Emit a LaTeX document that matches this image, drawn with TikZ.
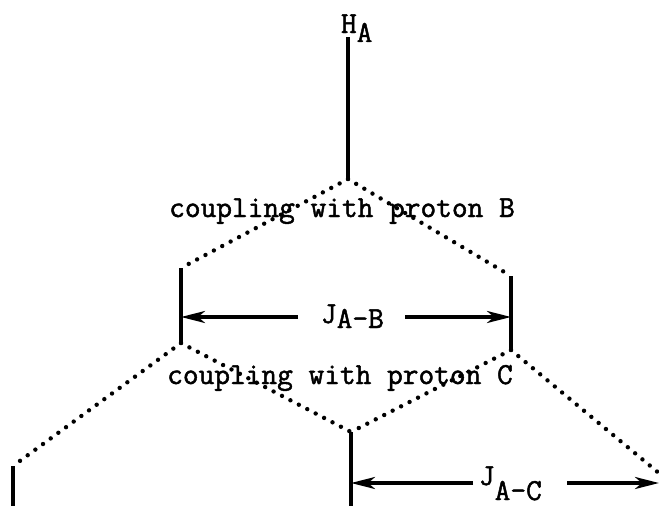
\documentclass[tikz,border=0pt]{standalone}
\usepackage{fontspec}
\newfontfamily\tw[FakeBold=1.6]{Latin Modern Mono}
\usetikzlibrary{arrows.meta}
\tikzset{
  level/.style={line width=3.2pt},
  split/.style={line width=4.4pt, dash pattern=on 0pt off 9.5pt, line cap=round},
  jarrow/.style={line width=3.5pt, -{Stealth[length=24pt,width=12pt,inset=7pt]}},
  lbl/.style={inner sep=0pt, outer sep=0pt, font=\tw\fontsize{30.5}{34}\selectfont, anchor=base west},
  txt/.style={inner sep=0pt, outer sep=0pt, font=\tw\fontsize{30.5}{34}\selectfont, anchor=base}
}
\begin{document}
\begin{tikzpicture}[x=1pt,y=-1pt]
\useasboundingbox (0,0) rectangle (659,506);
% coordinates
\coordinate (top) at (348,37);
\coordinate (v0) at (348,179);
\coordinate (b1t) at (181,268);
\coordinate (b1b) at (181,343);
\coordinate (b2t) at (511,276);
\coordinate (b2b) at (511,350);
\coordinate (c1t) at (13,466);
\coordinate (c1b) at (13,506);
\coordinate (c2t) at (351,432);
\coordinate (c2b) at (351,506);
\coordinate (c3) at (660,474);
% arrow coordinates
\coordinate (abL) at (181,317);
\coordinate (abR) at (511,317);
\coordinate (acL) at (351,483);
\coordinate (acR) at (659,483);
% labels
\node[lbl] (HA) at (341,33) {H\raisebox{-9pt}{A}};
\node[txt] (cB) at (342,217) {coupling with proton B};
\node[txt] (cC) at (340,384) {coupling with proton C};
\node[lbl] (JAB) at (321,323) {J\raisebox{-5pt}{A-B}};
\node[lbl] (JAC) at (479,485) {J\raisebox{-15pt}{A-C}};
\coordinate (abLs) at (298,317);
\coordinate (abRs) at (405,317);
\coordinate (acLs) at (473,483);
\coordinate (acRs) at (567,483);
% levels
\draw[level] (top) -- (v0);
\draw[level] (b1t) -- (b1b);
\draw[level] (b2t) -- (b2b);
\draw[level] (c1t) -- (c1b);
\draw[level] (c2t) -- (c2b);
% splittings
\draw[split] (v0) -- (b1t);
\draw[split] (v0) -- (b2t);
\draw[split] (b1b) -- (c1t);
\draw[split] (b1b) -- (c2t);
\draw[split] (b2b) -- (c2t);
\draw[split] (b2b) -- (c3);
% coupling constants
\draw[jarrow] (abLs) -- (abL);
\draw[jarrow] (abRs) -- (abR);
\draw[jarrow] (acLs) -- (acL);
\draw[jarrow] (acRs) -- (acR);
\end{tikzpicture}
\end{document}
